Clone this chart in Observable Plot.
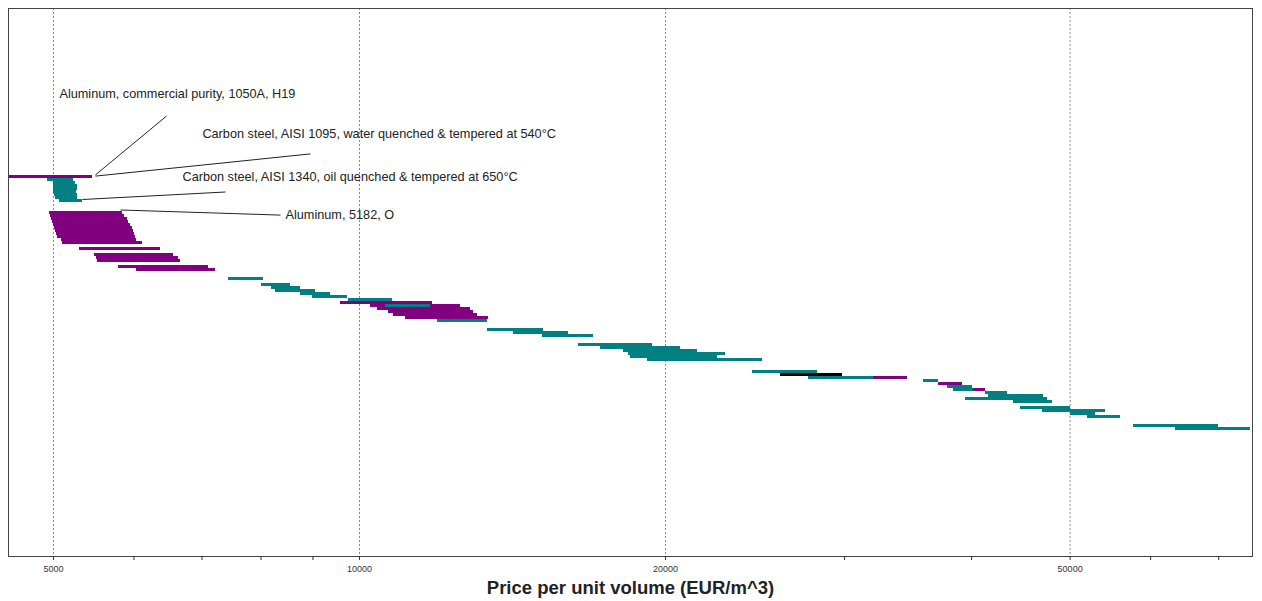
<!DOCTYPE html>
<html><head><meta charset="utf-8">
<script src="https://cdn.jsdelivr.net/npm/d3@7"></script>
<script src="https://cdn.jsdelivr.net/npm/@observablehq/plot@0.6"></script>
<style>
body{margin:0;background:#fff;font-family:"Liberation Sans",Arial,sans-serif;}
svg [aria-label="x-axis label"]{font-size:18.5px;font-weight:bold;fill:#222;}
</style></head><body><div id="chart"></div>
<script>
// Material families
const families = ["Aluminum", "Steel", "Other"];
const familyColors = ["#800080", "#008080", "#000000"];

// Ranked materials: order index, price range (EUR/m^3), family
const barRank = [0,1,2,3,4,5,6,7,8,12,13,14,15,16,17,18,19,20,21,22,24,26,27,28,30,31,34,36,37,38,39,40,41,42,43,43,44,45,46,47,48,51,52,53,56,57,58,59,60,61,65,66,67,67,68,69,70,71,71,72,73,74,75,77,78,79,80,83,84];
const barLow = [4500,4929,5000,5003,5005,5005,5010,5023,5068,4955,4966,4977,4989,5000,5011,5023,5034,5045,5091,5102,5303,5486,5511,5524,5793,6034,7433,8008,8191,8266,8750,8991,9754,9578,10252,10606,10415,10678,10799,11097,11932,13362,14174,15135,16419,17258,18183,18390,18474,19201,24352,25946,27648,32038,35878,37118,37882,38400,40181,41287,41569,39460,43990,44694,46973,50045,52010,57718,63500];
const barHigh = [5462,5228,5260,5275,5275,5270,5275,5275,5340,5846,5872,5912,5926,5953,5980,5994,6007,6021,6034,6117,6372,6562,6636,6667,7102,7216,8044,8554,8750,9052,9365,9732,10774,11798,12570,11745,12857,12945,13063,13392,13362,15170,16051,16986,19420,20689,21502,22910,22500,24910,28218,29862,32550,34603,37118,39192,40090,41287,41287,43396,47079,47508,48050,50045,54173,52961,56047,69985,75230];
const barFamily = ["Aluminum","Steel","Steel","Steel","Steel","Steel","Steel","Steel","Steel",
  "Aluminum","Aluminum","Aluminum","Aluminum","Aluminum","Aluminum","Aluminum","Aluminum","Aluminum","Aluminum","Aluminum","Aluminum","Aluminum","Aluminum","Aluminum","Aluminum","Aluminum",
  "Steel","Steel","Steel","Steel","Steel","Steel","Steel",
  "Aluminum","Aluminum","Steel","Aluminum","Aluminum","Aluminum","Aluminum","Steel",
  "Steel","Steel","Steel","Steel","Steel","Steel","Steel","Steel","Steel",
  "Steel","Other","Steel","Aluminum","Steel","Aluminum","Steel","Steel","Aluminum",
  "Steel","Steel","Steel","Steel","Steel","Steel","Steel","Steel","Steel","Steel"];

// Annotations
const labelText = ["Aluminum, commercial purity, 1050A, H19",
  "Carbon steel, AISI 1095, water quenched & tempered at 540°C",
  "Carbon steel, AISI 1340, oil quenched & tempered at 650°C",
  "Aluminum, 5182, O"];
const labelX = [5068, 7006, 6697, 8457];
const labelY = [-27.2, -13.8, 0.5, 13.2];
const leaderX1 = [6459, 8950, 7382, 8362];
const leaderY1 = [-19.8, -7.2, 5.5, 13.2];
const leaderX2 = [5499, 5499, 5340, 5820];
const leaderY2 = [-0.2, 0.2, 8.0, 11.5];

// Axis ticks
const majorTicks = [5000, 10000, 20000, 50000];
const minorTicks = [6000, 7000, 8000, 9000, 30000, 40000, 60000, 70000];
const xDomain = [4516, 75570];
const yDomain = [-55.6667, 127];

const bars = barRank.map((r, i) => ({rank: r, lo: barLow[i], hi: barHigh[i], family: barFamily[i]}));
const labels = labelText.map((t, i) => ({text: t, x: labelX[i], y: labelY[i]}));
const leaders = labelText.map((t, i) => ({x1: leaderX1[i], y1: leaderY1[i], x2: leaderX2[i], y2: leaderY2[i]}));
const allTicks = majorTicks.concat(minorTicks).sort((a, b) => a - b);

const chart = Plot.plot({
  width: 1262, height: 601,
  marginLeft: 8, marginRight: 10, marginTop: 8, marginBottom: 45,
  style: {fontFamily: "'Liberation Sans', Arial, sans-serif", fontSize: "9px", color: "#333", background: "#fff"},
  x: {type: "log", domain: xDomain},
  y: {domain: yDomain, reverse: true, axis: null},
  color: {domain: families, range: familyColors},
  marks: [
    Plot.ruleX(majorTicks, {stroke: "#888", strokeDasharray: "2,2", strokeWidth: 1}),
    Plot.rect(bars, {x1: "lo", x2: "hi", y1: "rank", y2: d => d.rank + 1, fill: "family", clip: true, shapeRendering: "crispEdges"}),
    Plot.link(leaders, {x1: "x1", y1: "y1", x2: "x2", y2: "y2", stroke: "#222", strokeWidth: 1}),
    Plot.text(labels, {x: "x", y: "y", text: "text", textAnchor: "start", fontSize: 12.7, fill: "#222"}),
    Plot.frame({stroke: "#444"}),
    Plot.axisX({ticks: allTicks, tickSize: 4, tickFormat: d => majorTicks.includes(d) ? String(d) : "",
      label: "Price per unit volume (EUR/m^3)", labelArrow: "none", labelAnchor: "center", labelOffset: 37, fontSize: 9})
  ]
});
document.getElementById("chart").appendChild(chart);
</script>
</body></html>
